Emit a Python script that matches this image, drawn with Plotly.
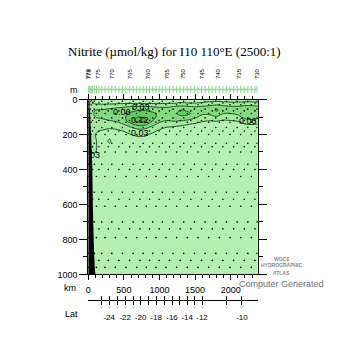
import numpy as np
import plotly.graph_objects as go

# ---------------- data ----------------
dist_km = [0, 40, 100, 200, 300, 400, 500, 600, 700, 800, 900, 1000, 1100, 1200,
           1300, 1400, 1500, 1600, 1700, 1800, 1900, 2000, 2100, 2200, 2300, 2380]
depth_m = [0, 20, 40, 60, 80, 100, 120, 140, 160, 180, 200, 240, 300, 360, 450, 1000]

# nitrite profiles (umol/kg), one per distance, values at depth_m
profiles = [
    [.04, .04, .045, .05, .05, .045, .04, .04, .04, .04, .038, .036, .033, .02, .01, .005],
    [.03, .035, .045, .05, .05, .045, .042, .04, .038, .036, .035, .035, .032, .02, .01, .005],
    [.02, .025, .045, .06, .065, .06, .05, .042, .036, .032, .03, .032, .031, .018, .01, .005],
    [.015, .022, .045, .062, .068, .065, .055, .045, .035, .028, .024, .02, .015, .01, .008, .005],
    [.015, .022, .048, .068, .074, .07, .06, .045, .032, .026, .025, .033, .015, .01, .008, .005],
    [.015, .024, .052, .072, .078, .074, .065, .05, .035, .026, .02, .015, .012, .01, .008, .005],
    [.015, .025, .056, .078, .085, .085, .08, .062, .042, .031, .022, .015, .012, .01, .008, .005],
    [.015, .026, .06, .082, .095, .105, .11, .085, .058, .04, .03, .018, .012, .01, .008, .005],
    [.015, .026, .062, .088, .1, .12, .13, .105, .072, .046, .034, .02, .012, .01, .008, .005],
    [.015, .026, .062, .088, .1, .115, .126, .1, .068, .046, .033, .02, .012, .01, .008, .005],
    [.015, .025, .058, .082, .095, .1, .092, .072, .05, .036, .026, .016, .012, .01, .008, .005],
    [.015, .025, .055, .078, .085, .08, .07, .052, .036, .026, .02, .015, .012, .01, .008, .005],
    [.015, .026, .055, .074, .08, .075, .06, .042, .029, .02, .016, .013, .011, .01, .008, .005],
    [.015, .028, .06, .08, .085, .08, .065, .042, .026, .018, .015, .013, .011, .01, .008, .005],
    [.018, .032, .066, .09, .096, .086, .062, .037, .023, .017, .015, .013, .011, .01, .008, .005],
    [.018, .03, .062, .085, .095, .08, .056, .032, .02, .016, .014, .012, .011, .01, .008, .005],
    [.018, .03, .058, .075, .08, .066, .046, .027, .018, .015, .013, .012, .011, .01, .008, .005],
    [.018, .032, .062, .07, .065, .05, .034, .022, .016, .014, .013, .012, .011, .01, .008, .005],
    [.02, .036, .066, .075, .065, .05, .031, .02, .015, .013, .012, .012, .011, .01, .008, .005],
    [.02, .04, .078, .095, .08, .056, .033, .02, .015, .013, .012, .012, .011, .01, .008, .005],
    [.02, .036, .066, .075, .06, .045, .028, .018, .015, .013, .012, .012, .011, .01, .008, .005],
    [.018, .034, .062, .07, .06, .046, .03, .02, .015, .013, .012, .012, .011, .01, .008, .005],
    [.018, .034, .062, .075, .066, .05, .033, .021, .015, .013, .012, .012, .011, .01, .008, .005],
    [.018, .036, .068, .085, .08, .07, .05, .03, .018, .014, .012, .012, .011, .01, .008, .005],
    [.018, .036, .068, .082, .085, .075, .056, .032, .019, .014, .012, .012, .011, .01, .008, .005],
    [.018, .034, .064, .076, .08, .07, .05, .03, .018, .014, .012, .012, .011, .01, .008, .005],
]

station_km = [0, 8, 15, 25, 40, 60, 85, 115, 150, 190, 235, 280, 330, 380, 430, 480,
              530, 580, 630, 680, 725, 770, 815, 860, 905, 950, 995, 1040, 1090, 1140,
              1190, 1240, 1290, 1340, 1390, 1440, 1490, 1540, 1590, 1640, 1690, 1740,
              1790, 1840, 1890, 1940, 1990, 2040, 2090, 2140, 2190, 2240, 2290, 2340, 2370]
bottle_depths_a = [10, 55, 105, 160, 250, 370, 530, 700, 880]
bottle_depths_b = [30, 80, 130, 200, 300, 440, 610, 790, 960]
bottle_depths_c = [20, 65, 120, 180, 270, 400, 570, 740, 920]

topo_km = [12, 28, 40, 50, 57, 64, 76, 90, 100]
topo_depth = [0, 100, 200, 300, 400, 600, 800, 950, 1000]

label_km = [0, 14, 140, 337, 589, 842, 1108, 1332, 1599, 1823, 2117, 2370]
label_txt = ["779", "778", "775", "770", "765", "760", "755", "750", "745", "740", "735", "730"]

lat_km = [182, 294, 406, 518, 630, 735, 840, 952, 1064, 1176, 1282, 1387, 1492, 1597, 1947, 2157]
lat_txt = ["", "-24", "", "-22", "", "-20", "", "-18", "", "-16", "", "-14", "", "-12", "", "-10"]

contour_labels = [  # (km, depth, text)
    (480, 70, "0.06"), (740, 45, "0.03"), (730, 115, "0.12"),
    (730, 190, "0.03"), (90, 320, "03"), (2240, 120, "0.06"),
]

x_max = 2380

# ---------------- figure ----------------
def px_x(p):
    return p / 350.0

def px_y(p):
    return 1 - p / 350.0

fig = go.Figure()

z = np.array(profiles).T
fig.add_trace(go.Contour(
    x=dist_km, y=depth_m, z=z,
    contours=dict(start=0.03, end=0.15, size=0.03, coloring="fill"),
    colorscale=[[0, "#b4f0b0"], [0.25, "#9ae596"], [0.5, "#84da80"],
                [0.75, "#6ece6a"], [1, "#58c458"]],
    zmin=0.015, zmax=0.135,
    line=dict(color="#1f5a1f", width=1),
    showscale=False, hoverinfo="skip",
))

# bottle sample dots
sets = [bottle_depths_a, bottle_depths_b, bottle_depths_c]
dx, dy = [], []
for i, s in enumerate(station_km):
    for d in sets[i % 3]:
        dx.append(s)
        dy.append(d)
fig.add_trace(go.Scatter(x=dx, y=dy, mode="markers",
                         marker=dict(color="black", size=1.6), hoverinfo="skip"))

# topography
fig.add_trace(go.Scatter(x=[0] + topo_km + [0], y=[0] + topo_depth + [1000],
                         fill="toself", fillcolor="black", mode="none",
                         hoverinfo="skip"))

# station marker line on top
fig.add_trace(go.Scatter(x=station_km, y=[0.5] * len(station_km), xaxis="x", yaxis="y2",
                         mode="lines+markers",
                         line=dict(color="#8fd88f", width=1.5),
                         marker=dict(symbol="line-ns-open", size=6,
                                     line=dict(color="#3c8c3c", width=1)),
                         hoverinfo="skip"))

# invisible traces for lat axes
fig.add_trace(go.Scatter(x=[0, x_max], y=[0, 0], xaxis="x2", yaxis="y", mode="markers",
                         marker=dict(opacity=0), hoverinfo="skip"))
fig.add_trace(go.Scatter(x=[0, x_max], y=[0, 0], xaxis="x3", yaxis="y", mode="markers",
                         marker=dict(opacity=0), hoverinfo="skip"))

dom_x = [px_x(86), px_x(257)]
tickfont = dict(family="Liberation Sans, Arial", size=9, color="black")

fig.update_layout(
    width=350, height=350, autosize=False,
    margin=dict(l=0, r=0, t=0, b=0),
    paper_bgcolor="white", plot_bgcolor="white",
    showlegend=False,
    xaxis=dict(domain=dom_x, range=[0, x_max], showgrid=False, zeroline=False,
               showline=True, linecolor="black", linewidth=1, mirror="ticks",
               ticks="outside", ticklen=5, tickcolor="black", tickwidth=1,
               ticklabelstandoff=2,
               tickvals=[0, 500, 1000, 1500, 2000], tickfont=tickfont,
               minor=dict(dtick=100, ticks="outside", ticklen=3, tickcolor="black")),
    yaxis=dict(domain=[px_y(277.3), px_y(97.3)], range=[1000, 0], showgrid=False,
               zeroline=False, showline=True, linecolor="black", linewidth=1,
               mirror="ticks", ticks="outside", ticklen=8, tickcolor="black",
               tickvals=[0, 200, 400, 600, 800, 1000], tickfont=tickfont,
               minor=dict(dtick=100, ticks="outside", ticklen=4, tickcolor="black")),
    yaxis2=dict(domain=[px_y(91), px_y(83)], range=[0, 1], visible=False),
    xaxis2=dict(domain=dom_x, range=[0, x_max], overlaying="x", anchor="free",
                position=px_y(303.5), showgrid=False, zeroline=False, showline=True,
                linecolor="black", linewidth=1, ticks="outside", ticklen=4,
                ticklabelstandoff=6,
                tickcolor="black", tickvals=lat_km, ticktext=lat_txt,
                tickfont=dict(family="Liberation Sans, Arial", size=8, color="black")),
    xaxis3=dict(domain=dom_x, range=[0, x_max], overlaying="x", anchor="free",
                position=px_y(303.5), showgrid=False, zeroline=False, showline=False,
                ticks="inside", ticklen=4, tickcolor="black", tickvals=lat_km,
                showticklabels=False),
)

C = dict(xanchor="center", yanchor="middle", showarrow=False)
ann = []
ann.append(dict(x=px_x(173), y=px_y(48), xref="paper", yref="paper",
                text="Nitrite (µmol/kg) for I10 110°E (2500:1)",
                font=dict(family="Liberation Serif, Times New Roman", size=13, color="black"), **C))
ann.append(dict(x=px_x(72), y=px_y(87), xref="paper", yref="paper",
                text="m", font=dict(family="Liberation Sans", size=9, color="black"), **C))
ann.append(dict(x=px_x(68), y=px_y(291), xref="paper", yref="paper",
                text="km", font=dict(family="Liberation Sans", size=9, color="black"), **C))
ann.append(dict(x=px_x(69), y=px_y(318), xref="paper", yref="paper",
                text="Lat", font=dict(family="Liberation Sans", size=9, color="black"), **C))
for k, t in zip(label_km, label_txt):
    ann.append(dict(x=k, y=px_y(71), xref="x", yref="paper", text=t, textangle=-90,
                    font=dict(family="Liberation Sans", size=6, color="black"), **C))
for k, d, t in contour_labels:
    ann.append(dict(x=k, y=d, xref="x", yref="y", text=t,
                    font=dict(family="Liberation Sans", size=9, color="black"), **C))
for yy, t in [(261, "WOCE"), (268, "HYDROGRAPHIC"), (276, "ATLAS")]:
    ann.append(dict(x=px_x(281), y=px_y(yy), xref="paper", yref="paper",
                    text="<b>%s</b>" % t,
                    font=dict(family="Liberation Sans", size=5, color="#8a8a8a"), **C))
ann.append(dict(x=px_x(281), y=px_y(287), xref="paper", yref="paper",
                text="Computer Generated",
                font=dict(family="Liberation Sans", size=9, color="#707070"), **C))
fig.update_layout(annotations=ann)

fig.write_html("out.html")
